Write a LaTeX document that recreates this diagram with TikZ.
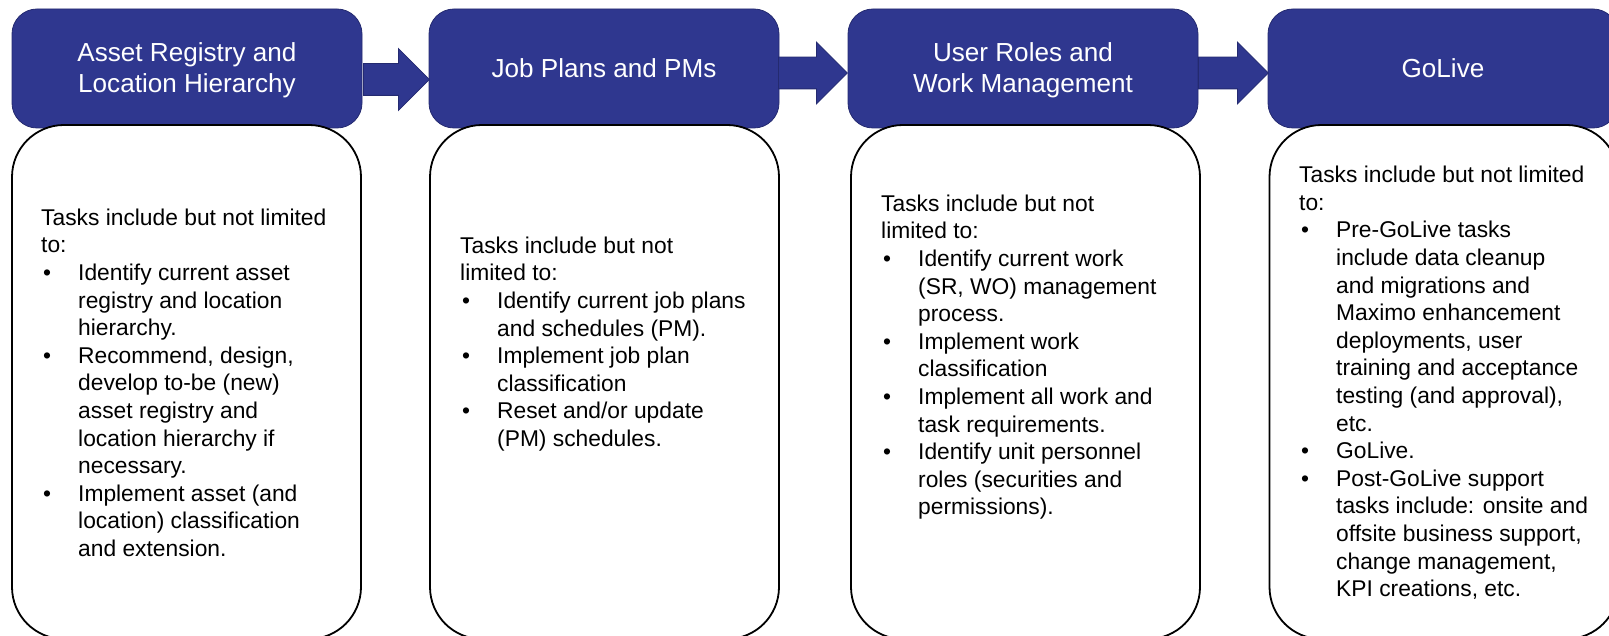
\documentclass[tikz,border=0pt]{standalone}
\usepackage{fontspec}
\setmainfont{Liberation Sans}
\usetikzlibrary{shapes.arrows}
\definecolor{phaseblue}{RGB}{47,55,143}
\definecolor{phaseedge}{RGB}{36,42,112}
\newcommand{\bul}{\makebox[37pt][l]{\hspace{2pt}\textbullet}}
\newcommand{\ind}{\hspace*{37pt}}
\newcommand{\lift}{\rule{0pt}{23pt}}
\tikzset{
phase/.style = {draw=phaseedge, fill=phaseblue, text=white, rounded corners=25pt, minimum width=350pt, minimum height=119pt, align=center, line width=0.8pt, font=\fontsize{26.1pt}{31pt}\selectfont},
taskbox/.style = {draw=black, fill=white, rounded corners=52pt, minimum width=349pt, minimum height=514pt, line width=1.8pt},
tasks/.style = {anchor=north west, inner sep=0pt, align=left, font=\fontsize{22.8pt}{27.6pt}\selectfont},
flow/.style = {single arrow, draw=phaseedge, fill=phaseblue, line width=0.8pt, minimum width=61pt, single arrow head extend=15pt, inner sep=0pt, anchor=tail}
}
\begin{document}
\begin{tikzpicture}[x=1pt, y=-1pt]
  \clip (0,0) rectangle (1609,636);
  % phase headers
  \node [phase] (hreg)  at (187,68.5)  {\lift Asset Registry and\\Location Hierarchy};
  \node [phase] (hjob)  at (604,68.5)  {Job Plans and PMs};
  \node [phase] (hrole) at (1023,68.5) {\lift User Roles and\\Work Management};
  \node [phase] (hlive) at (1443,68.5) {GoLive};

  % task boxes
  \node [taskbox] (breg)  at (186.5,382)  {};
  \node [taskbox] (bjob)  at (604.5,382)  {};
  \node [taskbox] (brole) at (1025.5,382) {};
  \node [taskbox] (blive) at (1444,382)   {};

  % arrows between the phases
  \node [flow, minimum height=66pt] (ajob)  at (363,79.5) {\rule{0pt}{31pt}};
  \node [flow, minimum height=69pt] (arole) at (778,73)   {\rule{0pt}{31pt}};
  \node [flow, minimum height=70pt] (alive) at (1198,73)  {\rule{0pt}{31pt}};

  % task lists
  \node [tasks] (treg) at (41,205.7) {\strut Tasks include but not limited\\to:\\
    \bul Identify current asset\\\ind registry and location\\\ind hierarchy.\\
    \bul Recommend, design,\\\ind develop to-be (new)\\\ind asset registry and\\\ind location hierarchy if\\\ind necessary.\\
    \bul Implement asset (and\\\ind location) classification\\\ind and extension.};
  \node [tasks] (tjob) at (460,233.7) {\strut Tasks include but not\\limited to:\\
    \bul Identify current job plans\\\ind and schedules (PM).\\
    \bul Implement job plan\\\ind classification\\
    \bul Reset and/or update\\\ind (PM) schedules.};
  \node [tasks] (trole) at (881,191.7) {\strut Tasks include but not\\limited to:\\
    \bul Identify current work\\\ind (SR, WO) management\\\ind process.\\
    \bul Implement work\\\ind classification\\
    \bul Implement all work and\\\ind task requirements.\\
    \bul Identify unit personnel\\\ind roles (securities and\\\ind permissions).};
  \node [tasks] (tlive) at (1299,163.2) {\strut Tasks include but not limited\\to:\\
    \bul Pre-GoLive tasks\\\ind include data cleanup\\\ind and migrations and\\\ind Maximo enhancement\\\ind deployments, user\\\ind training and acceptance\\\ind testing (and approval),\\\ind etc.\\
    \bul GoLive.\\
    \bul Post-GoLive support\\\ind tasks include: onsite and\\\ind offsite business support,\\\ind change management,\\\ind KPI creations, etc.};
\end{tikzpicture}
\end{document}
